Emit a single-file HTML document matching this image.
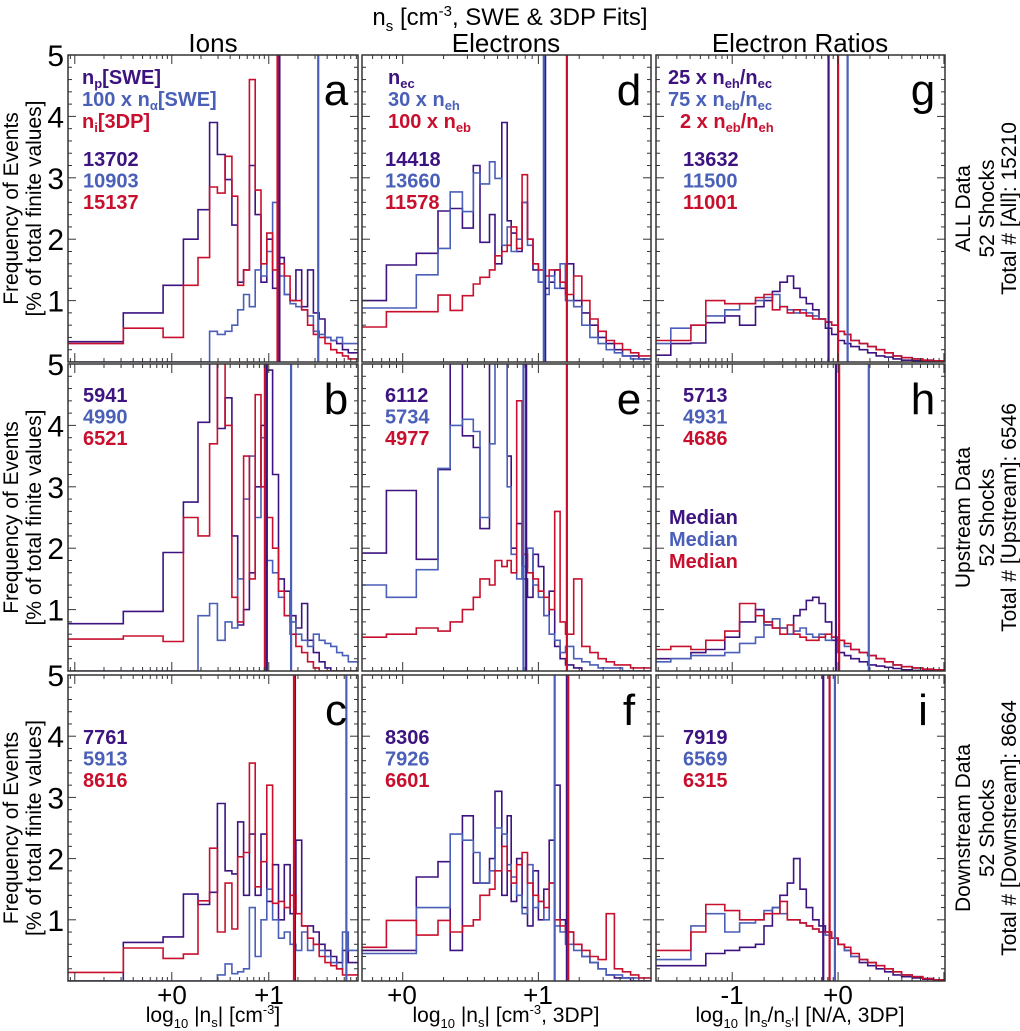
<!DOCTYPE html>
<html><head><meta charset="utf-8">
<style>
html,body{margin:0;padding:0;background:#fff;}
svg{display:block;font-family:"Liberation Sans",Arial,sans-serif;}
</style></head>
<body>
<svg id="chart" width="1020" height="1031" viewBox="0 0 1020 1031" xmlns="http://www.w3.org/2000/svg">
<text x="510" y="25" font-size="24" text-anchor="middle">n<tspan font-size="15" dy="6">s</tspan><tspan dy="-6"> [cm</tspan><tspan font-size="15" dy="-9">-3</tspan><tspan dy="9">, SWE &amp; 3DP Fits]</tspan></text>
<text x="213" y="52" font-size="26" text-anchor="middle">Ions</text>
<text x="506" y="52" font-size="26" text-anchor="middle">Electrons</text>
<text x="800" y="52" font-size="26" text-anchor="middle">Electron Ratios</text>
<g id="panels"></g>
</svg>
<script>
// ---------- DATA ----------
const edgesIons = [-1.07,-0.5,-0.09,0.12,0.27,0.39,0.47,0.55,0.62,0.68,0.74,0.8,0.86,0.92,0.98,1.04,1.1,1.16,1.22,1.28,1.34,1.4,1.46,1.52,1.58,1.64,1.7,1.76,1.82,1.92];
const edgesElec = [-0.3,-0.12,0.1,0.26,0.35,0.44,0.52,0.57,0.64,0.68,0.73,0.77,0.8,0.84,0.88,0.92,0.96,1.0,1.04,1.08,1.12,1.16,1.2,1.26,1.32,1.38,1.44,1.5,1.56,1.62,1.68,1.74,1.83];
const edgesRatio = [-1.72,-1.58,-1.39,-1.25,-1.07,-0.93,-0.78,-0.7,-0.62,-0.55,-0.48,-0.42,-0.36,-0.3,-0.24,-0.18,-0.12,-0.06,0,0.06,0.12,0.2,0.28,0.36,0.44,0.52,0.6,0.7,0.8,0.9,1.01];

const aPurple = [0.33,0.8,1.25,2.0,2.48,3.9,3.38,2.97,2.23,1.3,1.5,3.2,2.4,1.3,2.0,1.2,1.7,1.1,1.0,1.5,0.9,1.5,0.8,0.7,0.4,0.35,0.3,0.2,0.15];
const aBlue = [0,0,0,0,0,0.5,0.45,0.5,0.6,0.85,1.1,0.9,1.5,1.4,1.8,2.6,1.4,1.1,0.95,0.9,0.85,0.75,0.5,0.45,0.4,0.35,0.4,0.3,0.3];
const aRed = [0.3,0.55,0.4,1.25,1.7,2.85,2.75,3.35,2.7,1.25,1.5,4.6,2.8,1.6,2.1,1.5,1.6,1.4,1.0,1.0,0.85,0.6,0.45,0.4,0.3,0.2,0.15,0.1,0.05];
const aMedians = [1.11,1.51,1.09];
const bPurple = [0.77,0.97,1.93,2.75,4.05,5.5,3.95,4.45,2.2,0.75,1.0,1.6,3.0,4.0,4.9,3.2,1.5,1.3,0.9,0.7,1.1,0.5,0.3,0.15,0.05,0,0,0,0];
const bBlue = [0,0,0,0,0.9,1.1,0.5,0.8,0.7,1.5,2.8,3.5,2.5,3.8,1.8,1.6,1.2,0.9,0.8,0.6,0.5,0.4,0.6,0.5,0.45,0.4,0.3,0.25,0.15];
const bRed = [0.52,0.57,0.48,2.5,2.2,3.7,5.5,4.0,1.2,0.8,3.5,1.5,4.5,3.0,2.5,2.0,1.3,0.9,0.6,0.4,0.3,0.15,0.05,0,0,0,0,0,0];
const bMedians = [0.98,1.23,0.96];
const cPurple = [0,0.63,0.72,1.42,1.25,1.45,2.9,1.8,1.75,2.6,1.4,2.4,1.4,2.4,1.3,1.9,1.0,1.9,1.1,2.3,0.9,0.9,0.8,0.6,0.5,0.4,0.3,0.5,0.3];
const cBlue = [0,0,0,0,0,0,0.1,0.28,0.12,0.15,0.2,1.2,0.4,1.0,1.5,1.0,0.7,0.8,0.6,0.5,0.8,0.5,0.6,0.5,0.4,0.3,0.2,0.8,0.5];
const cRed = [0.14,0.54,0.37,0.44,1.31,2.17,0.8,1.6,0.85,2.03,2.1,3.56,1.54,1.95,3.2,1.27,1.3,1.2,1.4,1.1,0.9,0.7,0.6,0.4,0.3,0.25,0.2,0.1,0.1];
const cMedians = [1.27,1.80,1.26];
const dPurple = [1.0,1.58,1.77,2.46,2.5,2.18,3.2,1.95,2.4,1.6,3.9,2.3,2.1,1.8,2.6,2.0,1.5,1.3,1.2,1.3,1.5,1.2,1.6,1.0,0.8,0.6,0.4,0.3,0.2,0.1,0.1,0.05];
const dBlue = [0.88,0.88,1.42,1.85,2.77,2.45,3.08,2.9,3.26,2.99,1.9,2.2,1.8,2.0,2.6,1.9,1.6,1.3,1.1,1.4,1.2,1.6,1.0,0.9,0.6,0.4,0.3,0.2,0.15,0.1,0.05,0.05];
const dRed = [0.57,0.82,0.82,1.09,0.84,1.08,1.27,1.38,1.5,1.73,1.8,1.9,2.2,1.85,3.05,2.0,1.6,1.5,1.4,1.5,1.5,1.3,1.1,1.4,1.0,0.7,0.5,0.35,0.3,0.2,0.15,0.1];
const dMedians = [1.05,1.04,1.21];
const ePurple = [1.92,2.94,1.82,3.28,5.5,3.83,3.64,2.32,5.5,5.5,5.5,3.5,2.0,2.4,1.5,1.2,1.9,1.7,0.9,1.3,0.4,0.2,0.1,0.05,0,0,0,0,0,0,0,0];
const eBlue = [1.4,1.2,1.65,3.3,4.0,4.1,3.9,2.5,3.7,5.5,5.5,3.0,1.9,1.5,1.7,2.0,1.4,1.2,0.9,0.6,0.5,0.3,0.4,0.2,0.15,0.1,0.05,0.05,0.05,0,0,0];
const eRed = [0.55,0.6,0.7,0.65,0.8,1.0,1.2,1.5,1.4,1.8,1.7,1.8,1.6,4.4,1.9,1.6,1.5,1.3,1.2,1.0,2.6,0.8,0.6,1.5,0.4,0.3,0.2,0.15,0.1,0.1,0.05,0.05];
const eMedians = [0.91,0.89,1.21];
const fPurple = [0.5,0.5,1.7,1.95,0.5,2.7,1.6,1.6,2.0,3.1,1.4,2.7,1.3,2.0,1.2,0.9,1.8,1.0,1.5,2.3,3.2,1.0,0.8,0.6,0.4,0.3,0.2,0.1,0.05,0.05,0,0];
const fBlue = [0.45,0.45,1.2,1.2,2.4,2.3,2.1,1.6,1.8,2.5,2.4,1.9,1.7,1.4,1.1,1.9,1.2,1.3,1.0,1.6,0.9,0.8,0.6,0.5,0.4,0.3,0.2,0.1,0.1,0.05,0.05,0];
const fRed = [0.55,0.99,0.75,0.99,0.8,0.9,1.0,1.4,1.5,1.8,2.2,1.8,1.6,1.9,2.1,1.6,1.4,1.3,1.2,1.6,1.0,0.9,0.8,0.6,0.5,0.4,0.35,1.1,0.2,0.15,0.1,0.05];
const fMedians = [1.21,1.12,1.22];
const gPurple = [0.11,0.3,0.31,0.64,0.75,0.6,0.9,1.0,1.15,1.3,1.4,1.2,1.05,0.95,0.85,0.7,0.55,0.45,0.35,0.3,0.25,0.2,0.15,0.1,0.08,0.05,0.03,0.02,0.02,0.01];
const gBlue = [0.3,0.55,0.6,0.75,0.85,0.95,1.0,1.05,1.1,0.9,0.85,0.8,0.85,0.8,0.75,0.7,0.65,0.6,0.5,0.45,0.35,0.3,0.25,0.2,0.15,0.1,0.07,0.05,0.03,0.02];
const gRed = [0.35,0.35,0.6,1.0,0.95,0.95,1.05,1.1,0.85,0.9,0.8,0.85,0.8,0.75,0.7,0.7,0.65,0.6,0.5,0.45,0.35,0.3,0.25,0.2,0.15,0.1,0.07,0.05,0.03,0.02];
const gMedians = [-0.09,0.09,0.0];
const hPurple = [0.2,0.2,0.3,0.35,0.55,0.8,1.0,0.75,0.7,0.7,0.6,0.9,1.0,1.15,1.2,1.1,0.8,0.5,0.3,0.25,0.2,0.15,0.1,0.08,0.06,0.04,0.02,0.01,0.01,0];
const hBlue = [0.15,0.2,0.25,0.25,0.3,0.45,0.55,0.8,0.85,0.7,0.6,0.65,0.7,0.6,0.55,0.6,0.5,0.55,0.5,0.4,0.35,0.3,0.25,0.2,0.15,0.1,0.07,0.05,0.03,0.02];
const hRed = [0.35,0.4,0.35,0.5,0.65,1.1,0.9,0.8,0.7,0.6,0.75,0.6,0.55,0.5,0.5,0.55,0.6,0.55,0.5,0.45,0.35,0.3,0.25,0.2,0.15,0.1,0.07,0.05,0.03,0.02];
const hMedians = [-0.02,0.29,0.01];
const iPurple = [0.25,0.25,0.25,0.45,0.5,0.55,0.6,0.9,1.2,1.4,1.6,2.0,1.5,1.2,1.0,0.9,0.8,0.7,0.6,0.5,0.4,0.3,0.25,0.2,0.15,0.1,0.07,0.05,0.03,0.02];
const iBlue = [0.35,0.35,0.9,1.1,0.8,0.95,1.0,1.15,1.2,1.1,1.0,1.0,0.95,0.9,0.85,0.8,0.75,0.7,0.6,0.5,0.4,0.35,0.3,0.25,0.2,0.15,0.1,0.07,0.04,0.02];
const iRed = [0.5,0.5,0.8,1.25,1.15,1.0,1.0,1.1,1.1,1.3,1.0,1.0,0.95,0.9,0.85,0.8,0.8,0.7,0.6,0.55,0.45,0.35,0.3,0.25,0.2,0.15,0.1,0.07,0.04,0.02];
const iMedians = [-0.14,-0.03,-0.08];

const counts = [["13702","10903","15137"],["5941","4990","6521"],["7761","5913","8616"],
                ["14418","13660","11578"],["6112","5734","4977"],["8306","7926","6601"],
                ["13632","11500","11001"],["5713","4931","4686"],["7919","6569","6315"]];
const yTicks = [1,2,3,4,5];

// ---------- LAYOUT ----------
const NS = "http://www.w3.org/2000/svg";
const COLORS = ["#3d1380","#4a5fb8","#c8102e"];
const colX = [[68,358],[362,651],[656,945]];
const rowY = [[55,362],[364,671],[675,981]];
const colDom = [[-1.07,1.92],[-0.30,1.83],[-1.72,1.01]];
const colEdges = [edgesIons, edgesElec, edgesRatio];
const panelSeries = [
 [[aPurple,aBlue,aRed],[bPurple,bBlue,bRed],[cPurple,cBlue,cRed]],
 [[dPurple,dBlue,dRed],[ePurple,eBlue,eRed],[fPurple,fBlue,fRed]],
 [[gPurple,gBlue,gRed],[hPurple,hBlue,hRed],[iPurple,iBlue,iRed]]];
const panelMedians = [[aMedians,bMedians,cMedians],[dMedians,eMedians,fMedians],[gMedians,hMedians,iMedians]];
const letters = [["a","b","c"],["d","e","f"],["g","h","i"]];
const root = document.getElementById("panels");
function mk(tag, attrs, parent){const e=document.createElementNS(NS,tag);for(const k in attrs)e.setAttribute(k,attrs[k]);(parent||root).appendChild(e);return e;}

for(let c=0;c<3;c++){
 for(let r=0;r<3;r++){
  const [x0,x1]=colX[c],[y0,y1]=rowY[r],[d0,d1]=colDom[c];
  const xs=v=>x0+(v-d0)/(d1-d0)*(x1-x0);
  const ys=v=>y1-v/5*(y1-y0);
  const g=mk("g",{});
  
  
  const cid="clip"+c+r;
  const cp=mk("clipPath",{id:cid},g); mk("rect",{x:x0,y:y0,width:x1-x0,height:y1-y0},cp);
  const plot=mk("g",{"clip-path":"url(#"+cid+")"},g);
  const edges=colEdges[c];
  panelSeries[c][r].forEach((vals,si)=>{
    let d="M"+xs(edges[0]).toFixed(1)+","+ys(vals[0]).toFixed(1);
    for(let k=0;k<vals.length;k++){
      if(k>0) d+="V"+ys(vals[k]).toFixed(1);
      d+="H"+xs(edges[k+1]).toFixed(1);
    }
    const p=mk("path",{d:d,fill:"none",stroke:COLORS[si],"stroke-width":"1.6"},plot);
    
    
  });
  panelMedians[c][r].forEach((m,si)=>{
    const l=mk("line",{x1:xs(m),x2:xs(m),y1:y0,y2:y1,stroke:COLORS[si],"stroke-width":"2.2"},plot);
    
    
  });
  const fr=mk("rect",{x:x0,y:y0,width:x1-x0,height:y1-y0,fill:"none",stroke:"#333","stroke-width":"1.5"},g);
  
  
  for(let v=0;v<=5.001;v+=0.2){
    const major=Math.abs(v-Math.round(v))<0.01, len=major?8:4, yy=ys(v);
    mk("line",{x1:x0,x2:x0+len,y1:yy,y2:yy,stroke:"#333","stroke-width":"1"},g);
    mk("line",{x1:x1,x2:x1-len,y1:yy,y2:yy,stroke:"#333","stroke-width":"1"},g);
  }
  for(let dec=-3;dec<=2;dec++){
    for(let m=1;m<10;m++){
      const v=dec+Math.log10(m); if(v<d0||v>d1) continue;
      const len=m===1?9:4, xx=xs(v);
      mk("line",{x1:xx,x2:xx,y1:y1,y2:y1-len,stroke:"#333","stroke-width":"1"},g);
      mk("line",{x1:xx,x2:xx,y1:y0,y2:y0+len,stroke:"#333","stroke-width":"1"},g);
    }
  }
  const lt=mk("text",{x:x1-22,y:y0+50,"font-size":"44","text-anchor":"middle"},g);
  lt.textContent=letters[c][r];
  
  
  const cx=[83,385,683][c], cy=[166,402,744][r];
  counts[c*3+r].forEach((t,si)=>{
    const te=mk("text",{x:cx,y:cy+si*21.5,"font-size":"20","font-weight":"bold",fill:COLORS[si]},g);
    te.textContent=t;
    
    
  });
 }
}
for(let r=0;r<3;r++){
  const [y0,y1]=rowY[r];
  yTicks.forEach(v=>{
    const t=mk("text",{x:64,y:y1-v/5*(y1-y0)+11,"font-size":"30","text-anchor":"end"});
    t.textContent=String(v);
    
    
  });
  const cyy=(y0+y1)/2;
  const t1=mk("text",{x:0,y:0,"font-size":"21","text-anchor":"middle",transform:"translate(18,"+cyy+") rotate(-90)"});
  t1.textContent="Frequency of Events";
  
  
  const t2=mk("text",{x:0,y:0,"font-size":"21","text-anchor":"middle",transform:"translate(41,"+cyy+") rotate(-90)"});
  t2.textContent="[% of total finite values]";
  
  
  const right=[["ALL Data","52 Shocks","Total # [All]:  15210"],["Upstream Data","52 Shocks","Total # [Upstream]:  6546"],["Downstream Data","52 Shocks","Total # [Downstream]:  8664"]][r];
  right.forEach((s,k)=>{
    const t=mk("text",{x:0,y:0,"font-size":"21","text-anchor":"middle",transform:"translate("+[970,994,1016][k]+","+cyy+") rotate(-90)"});
    t.textContent=s;
    
    
  });
}
</script>
<div style="position:absolute;left:0;top:0;width:1020px;height:1031px;pointer-events:none">
<svg width="1020" height="1031" style="position:absolute;left:0;top:0;font-family:'Liberation Sans',Arial,sans-serif">
 <g font-size="20" font-weight="bold">
  <text x="82" y="84" fill="#3d1380">n<tspan font-size="13" dy="4">p</tspan><tspan dy="-4">[SWE]</tspan></text>
  <text x="82" y="106" fill="#4a5fb8">100 x n<tspan font-size="13" dy="4">α</tspan><tspan dy="-4">[SWE]</tspan></text>
  <text x="82" y="128" fill="#c8102e">n<tspan font-size="13" dy="4">i</tspan><tspan dy="-4">[3DP]</tspan></text>
 </g>
 <g font-size="20" font-weight="bold">
  <text x="388" y="84" fill="#3d1380">n<tspan font-size="13" dy="4">ec</tspan></text>
  <text x="388" y="106" fill="#4a5fb8">30 x n<tspan font-size="13" dy="4">eh</tspan></text>
  <text x="388" y="128" fill="#c8102e">100 x n<tspan font-size="13" dy="4">eb</tspan></text>
 </g>
 <g font-size="20" font-weight="bold">
  <text x="668" y="84" fill="#3d1380">25 x n<tspan font-size="13" dy="4">eh</tspan><tspan dy="-4">/n</tspan><tspan font-size="13" dy="4">ec</tspan></text>
  <text x="668" y="106" fill="#4a5fb8">75 x n<tspan font-size="13" dy="4">eb</tspan><tspan dy="-4">/n</tspan><tspan font-size="13" dy="4">ec</tspan></text>
  <text x="680" y="128" fill="#c8102e">2 x n<tspan font-size="13" dy="4">eb</tspan><tspan dy="-4">/n</tspan><tspan font-size="13" dy="4">eh</tspan></text>
 </g>
 <g font-size="20" font-weight="bold">
  <text x="669" y="524" fill="#3d1380">Median</text>
  <text x="669" y="546" fill="#4a5fb8">Median</text>
  <text x="669" y="568" fill="#c8102e">Median</text>
 </g>
 <g font-size="26" text-anchor="middle">
  <text x="172" y="1004">+0</text><text x="269" y="1004">+1</text>
  <text x="402" y="1004">+0</text><text x="538" y="1004">+1</text>
  <text x="732" y="1004">-1</text><text x="838" y="1004">+0</text>
 </g>
 <g font-size="21" text-anchor="middle">
  <text x="213" y="1022">log<tspan font-size="13" dy="6">10</tspan><tspan dy="-6"> |n</tspan><tspan font-size="13" dy="5">s</tspan><tspan dy="-5">| [cm</tspan><tspan font-size="13" dy="-8">-3</tspan><tspan dy="8">]</tspan></text>
  <text x="506" y="1022">log<tspan font-size="13" dy="6">10</tspan><tspan dy="-6"> |n</tspan><tspan font-size="13" dy="5">s</tspan><tspan dy="-5">| [cm</tspan><tspan font-size="13" dy="-8">-3</tspan><tspan dy="8">, 3DP]</tspan></text>
  <text x="800" y="1022">log<tspan font-size="13" dy="6">10</tspan><tspan dy="-6"> |n</tspan><tspan font-size="13" dy="5">s</tspan><tspan dy="-5">/n</tspan><tspan font-size="13" dy="5">s'</tspan><tspan dy="-5">| [N/A, 3DP]</tspan></text>
 </g>
</svg>
</div>
</body></html>
